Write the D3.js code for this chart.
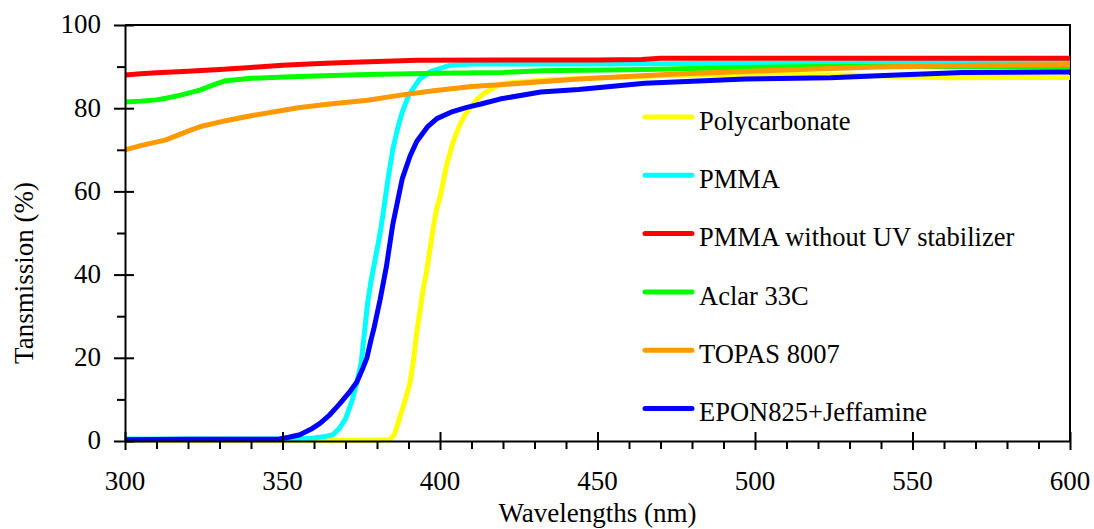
<!DOCTYPE html>
<html>
<head>
<meta charset="utf-8">
<script src="https://cdn.jsdelivr.net/npm/d3@7"></script>
<style>
  body { margin: 0; background: #fff; }
  #chart { position: relative; width: 1094px; height: 529px; }
  #chart svg { position: absolute; left: 0; top: 0; }
  .lbl { position: absolute; font-family: "Liberation Serif", "Times New Roman", Tinos; color: #000;
         line-height: 1; white-space: nowrap; }
</style>
</head>
<body>
<div id="chart"><svg width="1094" height="529"></svg></div>
<script>
const margin = { top: 25, right: 24, bottom: 88, left: 125 };
const width = 1094 - margin.left - margin.right;
const height = 529 - margin.top - margin.bottom;

// series: [wavelength, transmission %]
const polycarbonate = [
  [300, 0.2], [350, 0.2], [375, 0.2], [384, 0.3], [385.5, 1.5], [387.3, 5.8], [389, 10], [390.5, 14],
  [391.5, 19], [392.6, 26], [393.6, 31], [394.6, 36.3], [395.8, 41], [396.8, 46], [398, 52], [399, 56],
  [400, 58.5], [402, 66], [404, 71.5], [406, 75.5], [408, 78.5], [409.5, 80], [412, 82.3], [414, 83.6],
  [418, 85.3], [421, 86], [430, 86.6], [440, 87.0], [470, 87.8], [500, 88.2], [530, 88.0], [560, 87.3], [600, 87.4]
];
const pmma = [
  [300, 0.5], [330, 0.5], [355, 0.5], [360, 0.7], [363, 1.0], [366, 1.5], [368, 3.0], [370, 5.3], [372, 9.5],
  [373.6, 14], [375, 19], [376, 26], [377, 33], [378, 38], [379, 42], [380, 46], [381, 50], [382, 55],
  [383.5, 63], [385, 70], [386.5, 75], [388, 79], [390, 83], [393.5, 87], [397, 88.8], [403, 90.3],
  [410, 90.6], [450, 90.6], [500, 90.8], [600, 91.0]
];
const pmmaNoUV = [
  [300, 88.0], [305, 88.3], [310, 88.5], [315, 88.7], [320, 88.9], [330, 89.3], [340, 89.8], [350, 90.3],
  [360, 90.7], [370, 91.0], [380, 91.2], [393, 91.5], [420, 91.6], [450, 91.6], [464, 91.7], [470, 92.0],
  [500, 92.0], [550, 92.0], [600, 92.0]
];
const aclar = [
  [300, 81.5], [305, 81.7], [310, 82.0], [313, 82.4], [318, 83.2], [324, 84.4], [328, 85.6], [332, 86.6],
  [340, 87.2], [355, 87.6], [377, 88.1], [400, 88.4], [420, 88.6], [432, 89.0], [465, 89.3], [495, 89.8],
  [520, 90.0], [560, 90.0], [600, 89.8]
];
const topas = [
  [300, 70.0], [305, 71.0], [313, 72.4], [320, 74.5], [324, 75.6], [332, 77.0], [340, 78.2], [355, 80.1],
  [365, 81.0], [377, 81.9], [388, 83.2], [398, 84.2], [410, 85.2], [420, 85.7], [444, 87.0], [475, 88.2],
  [507, 89.1], [539, 89.9], [571, 90.3], [600, 90.5]
];
const epon = [
  [300, 0.3], [320, 0.4], [340, 0.4], [349, 0.5], [352, 0.9], [355.5, 1.5], [359, 2.8], [362, 4.3],
  [365, 6.3], [368, 8.8], [371, 11.5], [373.6, 14.2], [375.5, 17.5], [376.8, 20], [378, 24], [379, 27],
  [381, 34], [383, 42], [385, 52], [386.5, 57.5], [388, 63], [390.5, 68.5], [392.6, 72], [396, 75.5],
  [399, 77.5], [404, 79.2], [408.5, 80.2], [413, 81], [419, 82.2], [432, 83.9], [444, 84.5], [465, 86.0],
  [497, 87.0], [524, 87.3], [545, 88.0], [566, 88.6], [600, 88.7]
];

const seriesNames = ["Polycarbonate", "PMMA", "PMMA without UV stabilizer", "Aclar 33C", "TOPAS 8007", "EPON825+Jeffamine"];
const seriesColors = ["#ffff00", "#00ffff", "#ff0000", "#00ff00", "#ff9900", "#0000ff"];
const seriesData = [polycarbonate, pmma, pmmaNoUV, aclar, topas, epon];

const xMajor = [300, 350, 400, 450, 500, 550, 600];
const xMinor = [310, 320, 330, 340, 360, 370, 380, 390, 410, 420, 430, 440, 460, 470, 480, 490,
  510, 520, 530, 540, 560, 570, 580, 590];
const yMajor = [0, 20, 40, 60, 80, 100];
const yMinor = [10, 30, 50, 70, 90];

const chart = d3.select("#chart");
const root = chart.select("svg");
const svg = root.append("g")
  .attr("transform", `translate(${margin.left},${margin.top})`);

const x = d3.scaleLinear().domain([300, 600]).range([0, width]);
const y = d3.scaleLinear().domain([0, 100]).range([height, 0]);

// frame (top + right)
svg.append("path")
  .attr("d", `M0,${y(100)}H${x(600)}V${y(0)}`)
  .attr("fill", "none")
  .attr("stroke", "#000")
  .attr("stroke-width", 2);

// lines
const line = d3.line().x(d => x(d[0])).y(d => y(d[1]));
svg.append("g")
  .selectAll("path")
  .data(seriesData)
  .join("path")
  .attr("fill", "none")
  .attr("stroke", (d, i) => seriesColors[i])
  .attr("stroke-width", 5)
  .attr("stroke-linejoin", "round")
  .attr("d", d => line(d));

// axes (ticks only; labels are html text so the serif font is used)
const yAxisG = svg.append("g")
  .call(d3.axisLeft(y).tickValues(yMajor).tickSize(11).tickSizeOuter(0).tickFormat(""));
yAxisG.selectAll(".tick line").attr("x2", -11).attr("x1", 9);
svg.append("g")
  .call(d3.axisLeft(y).tickValues(yMinor).tickSize(8).tickSizeOuter(0).tickFormat(""))
  .select(".domain").remove();

const xAxisG = svg.append("g")
  .attr("transform", `translate(0,${height})`)
  .call(d3.axisBottom(x).tickValues(xMajor).tickSize(9).tickSizeOuter(0).tickFormat(""));
xAxisG.selectAll(".tick line").attr("y1", -9).attr("y2", 9);
svg.append("g")
  .attr("transform", `translate(0,${height})`)
  .call(d3.axisBottom(x).tickValues(xMinor).tickSize(8).tickSizeOuter(0).tickFormat(""))
  .select(".domain").remove();

svg.selectAll("path.domain, .tick line").attr("stroke", "#000").attr("stroke-width", 2);

// baseline -> top offset for line-height:1 boxes
const topFor = (baseline, size) => baseline - size * 0.84;

chart.selectAll("div.ylab").data(yMajor).join("div")
  .attr("class", "lbl ylab")
  .style("font-size", "27px")
  .style("right", `${1094 - (margin.left - 24)}px`)
  .style("top", d => `${topFor(margin.top + y(d) + 9, 27)}px`)
  .text(d => d);

chart.selectAll("div.xlab").data(xMajor).join("div")
  .attr("class", "lbl xlab")
  .style("font-size", "27px")
  .style("left", d => `${margin.left + x(d)}px`)
  .style("top", `${topFor(margin.top + height + 50, 27)}px`)
  .style("transform", "translateX(-50%)")
  .text(d => d);

chart.append("div")
  .attr("class", "lbl")
  .style("font-size", "27px")
  .style("left", `${margin.left + width / 2}px`)
  .style("top", `${topFor(margin.top + height + 82, 27)}px`)
  .style("transform", "translateX(-50%)")
  .text("Wavelengths (nm)");

chart.append("div")
  .attr("class", "lbl")
  .style("font-size", "27px")
  .style("left", "24px")
  .style("top", `${margin.top + height / 2 + 40}px`)
  .style("transform", "translate(-50%, -50%) rotate(-90deg)")
  .text("Tansmission (%)");

// legend
const legendY = d3.scaleLinear().domain([0, 1]).range([117, 175.3]);
root.selectAll("line.leg").data(seriesNames).join("line")
  .attr("class", "leg")
  .attr("x1", 645).attr("x2", 692)
  .attr("y1", (d, i) => legendY(i)).attr("y2", (d, i) => legendY(i))
  .attr("stroke", (d, i) => seriesColors[i])
  .attr("stroke-width", 5)
  .attr("stroke-linecap", "round");
chart.selectAll("div.leg").data(seriesNames).join("div")
  .attr("class", "lbl leg")
  .style("font-size", "26.5px")
  .style("left", "699px")
  .style("top", (d, i) => `${topFor(legendY(i) + 13, 26.5)}px`)
  .text(d => d);
</script>
</body>
</html>
